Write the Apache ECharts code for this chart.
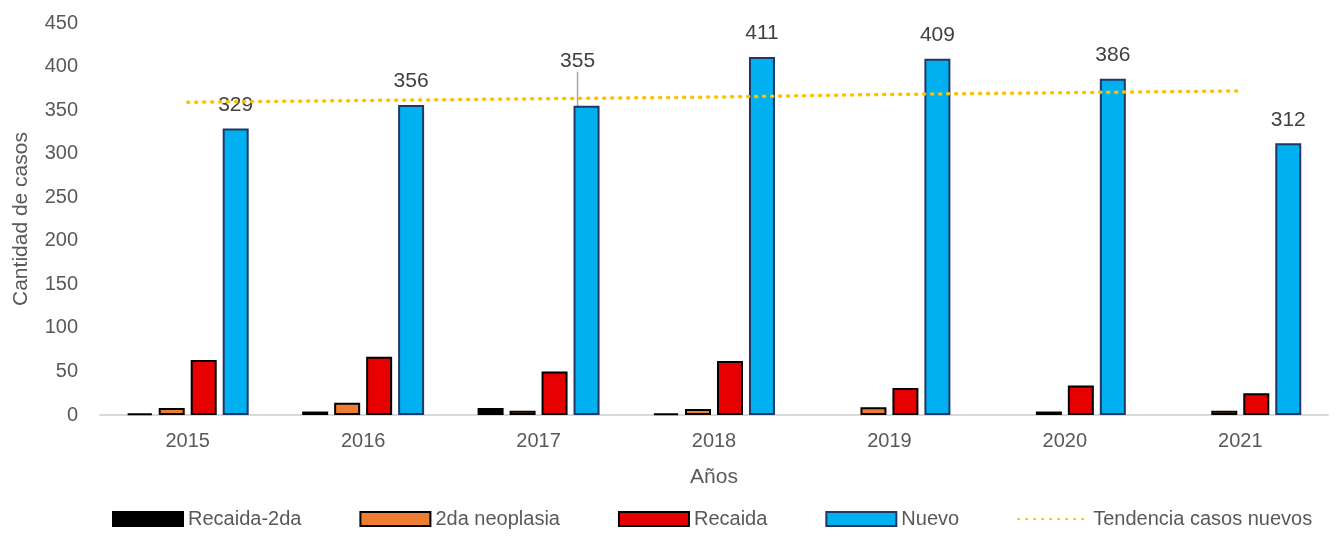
<!DOCTYPE html>
<html>
<head>
<meta charset="utf-8">
<script src="https://cdn.jsdelivr.net/npm/echarts@6/dist/echarts.min.js"></script>
<style>
  html, body { margin: 0; padding: 0; background: #fff; }
  #chart { width: 1340px; height: 542px; }
</style>
</head>
<body>
<div id="chart"></div>
<script>
var years = ['2015', '2016', '2017', '2018', '2019', '2020', '2021'];
var recaida2da = [2, 4, 8, 2, 0, 0, 0];
var neoplasia2da = [8, 14, 5, 7, 9, 4, 5];
var recaida = [63, 67, 50, 62, 31, 34, 25];
var nuevo = [329, 356, 355, 411, 409, 386, 312];
// trend line
var tendencia = [359, 361, 363, 365, 368, 370, 372];
var yTicks = [0, 50, 100, 150, 200, 250, 300, 350, 400, 450];

var font = '"Liberation Sans", Arial, sans-serif';
var myChart = echarts.init(document.getElementById('chart'));

// zero values are not drawn at all
function noZero(arr) {
    return arr.map(function (v) { return v === 0 ? null : v; });
}

// only the 2017 label is moved up, with a leader line
var nuevoData = nuevo.map(function (v, i) {
    if (i === 2) {
        return { value: v, labelLine: { show: true } };
    }
    return v;
});

var option = {
    animation: false,
    textStyle: { fontFamily: font },
    grid: { left: 100, right: 12, top: 23, bottom: 127 },
    legend: {
        bottom: 8,
        left: 107,
        itemWidth: 70,
        itemHeight: 14,
        itemGap: 58,
        textStyle: { fontSize: 20, color: '#595959', fontFamily: font },
        data: [
            { name: 'Recaida-2da', icon: 'rect' },
            { name: '2da neoplasia', icon: 'rect' },
            { name: 'Recaida', icon: 'rect' },
            { name: 'Nuevo', icon: 'rect' },
            'Tendencia casos nuevos'
        ]
    },
    xAxis: {
        type: 'category',
        data: years,
        name: 'Años',
        nameLocation: 'middle',
        nameGap: 52,
        nameTextStyle: { fontSize: 21, color: '#595959' },
        axisLine: { lineStyle: { color: '#d9d9d9', width: 2 } },
        axisTick: { show: false },
        axisLabel: { fontSize: 20, color: '#595959', margin: 16 }
    },
    yAxis: {
        type: 'value',
        min: yTicks[0],
        max: yTicks[yTicks.length - 1],
        interval: 50,
        name: 'Cantidad de casos',
        nameLocation: 'middle',
        nameGap: 68,
        nameTextStyle: { fontSize: 21, color: '#595959' },
        axisLine: { show: false },
        axisTick: { show: false },
        splitLine: { show: false },
        axisLabel: { fontSize: 20, color: '#595959', margin: 22 }
    },
    series: [
        {
            name: 'Recaida-2da',
            type: 'bar',
            data: noZero(recaida2da),
            barWidth: 26,
            barGap: '23%',
            itemStyle: { color: '#000000', borderColor: '#000000', borderWidth: 2 }
        },
        {
            name: '2da neoplasia',
            type: 'bar',
            data: noZero(neoplasia2da),
            barWidth: 26,
            barGap: '23%',
            itemStyle: { color: '#ed7d31', borderColor: '#000000', borderWidth: 2 }
        },
        {
            name: 'Recaida',
            type: 'bar',
            data: noZero(recaida),
            barWidth: 26,
            barGap: '23%',
            itemStyle: { color: '#e60000', borderColor: '#000000', borderWidth: 2 }
        },
        {
            name: 'Nuevo',
            type: 'bar',
            data: nuevoData,
            barWidth: 26,
            barGap: '23%',
            itemStyle: { color: '#00b0f0', borderColor: '#1f3864', borderWidth: 2 },
            label: {
                show: true,
                position: 'top',
                distance: 13,
                fontSize: 21,
                color: '#404040'
            },
            labelLine: { show: false, lineStyle: { color: '#a6a6a6', width: 1.5 } },
            labelLayout: function (params) {
                if (params.dataIndex === 2) {
                    return { dx: -9, dy: -21 };
                }
                return {};
            }
        },
        {
            name: 'Tendencia casos nuevos',
            type: 'line',
            data: tendencia,
            symbol: 'none',
            z: 5,
            lineStyle: { color: '#ffc000', width: 3.5, type: [1, 7], cap: 'round' },
            itemStyle: { color: '#ffc000', opacity: 0 }
        }
    ]
};

myChart.setOption(option);
</script>
</body>
</html>
